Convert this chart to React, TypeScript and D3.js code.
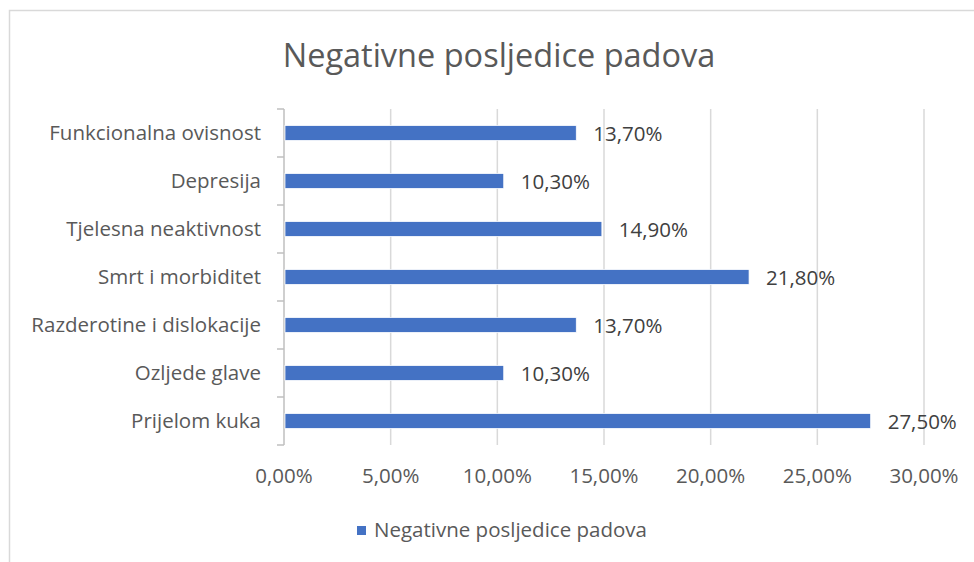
import React from 'react';
import * as d3 from 'd3';

const categories = [
    'Funkcionalna ovisnost',
    'Depresija',
    'Tjelesna neaktivnost',
    'Smrt i morbiditet',
    'Razderotine i dislokacije',
    'Ozljede glave',
    'Prijelom kuka',
];
const values = [13.7, 10.3, 14.9, 21.8, 13.7, 10.3, 27.5];
const xTicks = [0, 5, 10, 15, 20, 25, 30];
const seriesName = 'Negativne posljedice padova';
const title = 'Negativne posljedice padova';

const W = 974;
const H = 562;
const FONT = '"Open Sans", sans-serif';
const fmt = (v: number) => v.toFixed(2).replace('.', ',') + '%';

const App: React.FC = () => {
    const plot = { left: 284, right: 924, top: 109, bottom: 445 };

    const x = d3.scaleLinear().domain([0, 30]).range([plot.left, plot.right]);
    const y = d3.scaleBand<string>().domain(categories).range([plot.top, plot.bottom]).paddingInner(0.69).paddingOuter(0.345);
    const bounds = d3.range(categories.length + 1).map(i => plot.top + i * (plot.bottom - plot.top) / categories.length);

    return (
        <div style={{ position: 'fixed', left: 0, top: 0, background: '#fff' }}>
            <svg width={W} height={H} viewBox={`0 0 ${W} ${H}`} style={{ display: 'block', fontFamily: FONT }}>
                <rect x={0} y={0} width={W} height={H} fill="#fff" />
                {/* chart border */}
                <rect x={9.5} y={10.5} width={W + 20} height={H + 20} fill="none" stroke="#D9D9D9" strokeWidth={1.5} />

                <text x={499} y={67} textAnchor="middle" fontSize={32.5} fill="#595959">{title}</text>

                {/* gridlines */}
                {xTicks.slice(1).map(t => (
                    <line key={t} x1={x(t)} x2={x(t)} y1={plot.top} y2={plot.bottom} stroke="#D9D9D9" strokeWidth={1.5} />
                ))}

                {/* category axis */}
                <line x1={plot.left} x2={plot.left} y1={plot.top} y2={plot.bottom} stroke="#BFBFBF" strokeWidth={1.5} />
                {bounds.map((b, i) => (
                    <line key={i} x1={plot.left - 7} x2={plot.left} y1={b} y2={b} stroke="#BFBFBF" strokeWidth={1.5} />
                ))}

                {/* bars */}
                {categories.map((c, i) => (
                    <rect key={c} x={x(0) + 1} y={y(c)!} width={x(values[i]) - x(0) - 1} height={y.bandwidth()}
                        fill="#4472C4" stroke="#fff" strokeWidth={0.75} />
                ))}

                {/* data labels */}
                {categories.map((c, i) => (
                    <text key={c} x={x(values[i]) + 17} y={y(c)! + y.bandwidth() / 2 + 7.5} fontSize={20.5} fill="#404040">{fmt(values[i])}</text>
                ))}

                {/* category labels */}
                {categories.map(c => (
                    <text key={c} x={plot.left - 23} y={y(c)! + y.bandwidth() / 2 + 7} textAnchor="end" fontSize={20.5} fill="#595959">{c}</text>
                ))}

                {/* value axis labels */}
                {xTicks.map(t => (
                    <text key={t} x={x(t)} y={483} textAnchor="middle" fontSize={20.5} fill="#595959">{fmt(t)}</text>
                ))}

                {/* legend */}
                <rect x={357} y={526} width={9} height={9} fill="#4472C4" />
                <text x={374} y={537} fontSize={20.5} fill="#595959">{seriesName}</text>
            </svg>
        </div>
    );
};

export default App;
